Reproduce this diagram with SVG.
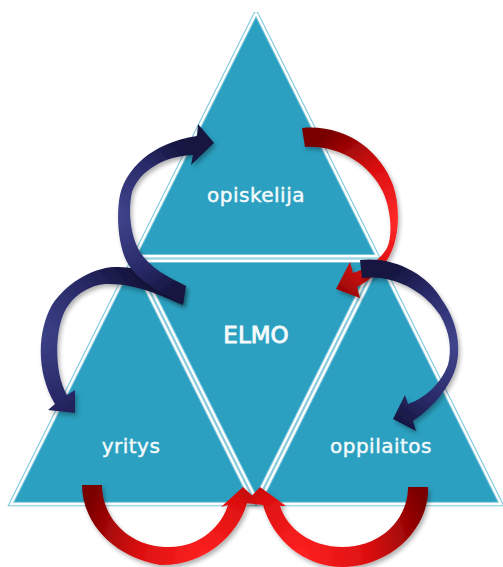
<svg xmlns="http://www.w3.org/2000/svg" width="503" height="567" viewBox="0 0 503 567">
<style>
.tri{fill:#2ba0c0;stroke:#7cc6db;stroke-width:4.5;stroke-linejoin:miter;stroke-miterlimit:2.2}
.edge{fill:none;stroke:#ffffff;stroke-width:2.4;stroke-linejoin:miter;stroke-miterlimit:2.2}
.lbl{font-family:"DejaVu Sans","Liberation Sans",sans-serif;font-size:20px;fill:#f4fafc;stroke:#f4fafc;stroke-width:0.45px;text-anchor:middle;letter-spacing:0.5px}
.big{font-size:23px;letter-spacing:0;stroke-width:0.9px}
.arrow{filter:url(#sh)}
</style>
<defs>
<filter id="sh" x="-20%" y="-20%" width="140%" height="140%">
<feDropShadow dx="2" dy="3" stdDeviation="2" flood-color="#000" flood-opacity="0.3"/>
</filter>
<radialGradient id="n1" gradientUnits="userSpaceOnUse" cx="116" cy="215" r="95">
<stop offset="0" stop-color="#40458c"/><stop offset="0.6" stop-color="#2a2b6a"/><stop offset="1" stop-color="#15153f"/>
</radialGradient>
<radialGradient id="n2" gradientUnits="userSpaceOnUse" cx="40" cy="335" r="110">
<stop offset="0" stop-color="#3c4187"/><stop offset="0.6" stop-color="#282966"/><stop offset="1" stop-color="#15153f"/>
</radialGradient>
<radialGradient id="n4" gradientUnits="userSpaceOnUse" cx="458" cy="345" r="100">
<stop offset="0" stop-color="#41468d"/><stop offset="0.6" stop-color="#2a2b6a"/><stop offset="1" stop-color="#15153f"/>
</radialGradient>
<radialGradient id="r3" gradientUnits="userSpaceOnUse" cx="398" cy="220" r="110">
<stop offset="0" stop-color="#ff2a2a"/><stop offset="0.5" stop-color="#dc0f10"/><stop offset="1" stop-color="#7a0000"/>
</radialGradient>
<radialGradient id="r5" gradientUnits="userSpaceOnUse" cx="205" cy="560" r="130">
<stop offset="0" stop-color="#ff2222"/><stop offset="0.5" stop-color="#dd1010"/><stop offset="1" stop-color="#7a0000"/>
</radialGradient>
<radialGradient id="r6" gradientUnits="userSpaceOnUse" cx="300" cy="558" r="135">
<stop offset="0" stop-color="#ff2222"/><stop offset="0.5" stop-color="#dd1010"/><stop offset="1" stop-color="#7a0000"/>
</radialGradient>
</defs>
<rect width="503" height="567" fill="#ffffff"/>

<g id="node-opiskelija">
<polygon class="tri" points="256,13 134.6,256.3 377.4,256.3"/>
<polygon class="edge" points="256,13 134.6,256.3 377.4,256.3"/>
<text class="lbl" x="256" y="202">opiskelija</text>
</g>
<g id="node-elmo">
<polygon class="tri" points="137.1,260.7 374.9,260.7 256,499"/>
<polygon class="edge" points="137.1,260.7 374.9,260.7 256,499"/>
<text class="lbl big" x="256" y="343">ELMO</text>
</g>
<g id="node-yritys">
<polygon class="tri" points="11,504 132.3,261 253.5,504"/>
<polygon class="edge" points="11,504 132.3,261 253.5,504"/>
<text class="lbl" x="131" y="453">yritys</text>
</g>
<g id="node-oppilaitos">
<polygon class="tri" points="258.5,504 379.7,261 501,504"/>
<polygon class="edge" points="258.5,504 379.7,261 501,504"/>
<text class="lbl" x="381" y="453">oppilaitos</text>
</g>

<g id="connectors">
<path id="arrow-elmo-yritys" class="arrow" fill="url(#n2)" d="M183,305 C160,295 135,283 105,284 C85,286 68,300 62,318 C55,338 55,375 67,395 L75,390 L75,413 L48,410 L55,404 C35,370 38,330 52,305 C65,285 90,268 115,267 C140,266 160,276 185,287 Z"/>
<path id="arrow-elmo-opiskelija" class="arrow" fill="url(#n1)" d="M186,286 C168,277 150,268 140,252 C130,235 128,210 132,192 C140,170 165,156 193,155 L191,165 L214,143 L198,124 L197,136 C150,143 126,170 120,195 C116,215 118,245 127,262 C138,282 165,296 183,304 Z"/>
<path id="arrow-opiskelija-elmo" class="arrow" fill="url(#r3)" d="M305,147 C340,145 370,165 383,192 C391,210 393,235 387,248 C380,260 368,268 353,273 L350,262 L336,289 L360,298 L357,287 C370,280 382,270 390,255 C400,235 400,205 393,185 C380,150 345,124 302,128 Z"/>
<path id="arrow-elmo-oppilaitos" class="arrow" fill="url(#n4)" d="M362,278 C395,274 425,292 440,315 C450,332 452,350 448,365 C440,385 425,398 408,404 L405,395 L393,419 L416,431 L413,421 C430,410 448,390 455,370 C462,350 458,322 442,300 C428,275 395,256 360,260 Z"/>
<path id="arrow-yritys-elmo" class="arrow" fill="url(#r5)" d="M82,485 C82,520 110,556 160,565 C205,566 238,535 247,503 L259,502 L243,487 L221,507 L228,505 C222,525 200,549 165,547 C125,545 102,515 102,485 Z"/>
<path id="arrow-oppilaitos-elmo" class="arrow" fill="url(#r6)" d="M428,487 C430,525 395,565 345,567 C305,568 273,540 263,505 L245,503 L260,487 L286,506 L280,506 C287,528 310,547 343,547 C380,547 408,520 408,487 Z"/>
</g>
</svg>
